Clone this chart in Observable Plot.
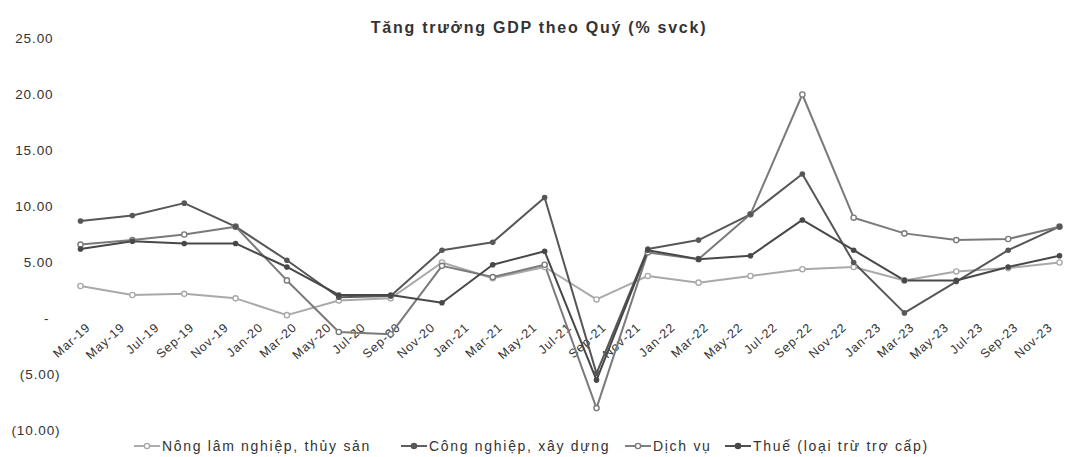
<!DOCTYPE html>
<html><head><meta charset="utf-8">
<script src="https://cdn.jsdelivr.net/npm/d3@7"></script>
<script src="https://cdn.jsdelivr.net/npm/@observablehq/plot@0.6"></script>
<style>
body{margin:0;background:#fff;font-family:"Liberation Sans",Arial,sans-serif;}
#wrap{position:relative;width:1078px;height:457px;overflow:hidden;background:#fff}
#title{position:absolute;top:19px;left:0;width:1078px;text-align:center;font-weight:bold;font-size:16px;color:#333;letter-spacing:1.75px}
.lg{position:absolute;top:438px;font-size:14px;color:#333;white-space:nowrap;display:flex;align-items:center;letter-spacing:1.7px}
.lg svg{margin-right:1px}
#chart svg text{letter-spacing:0.9px}
</style></head><body>
<div id="wrap"><div id="chart"></div><div id="title">Tăng trưởng GDP theo Quý (% svck)</div><div id="legend"></div></div>
<script>
const quarters = ["Mar-19","Jun-19","Sep-19","Dec-19","Mar-20","Jun-20","Sep-20","Dec-20","Mar-21","Jun-21","Sep-21","Dec-21","Mar-22","Jun-22","Sep-22","Dec-22","Mar-23","Jun-23","Sep-23","Dec-23"];
const xTickLabels = ["Mar-19","May-19","Jul-19","Sep-19","Nov-19","Jan-20","Mar-20","May-20","Jul-20","Sep-20","Nov-20","Jan-21","Mar-21","May-21","Jul-21","Sep-21","Nov-21","Jan-22","Mar-22","May-22","Jul-22","Sep-22","Nov-22","Jan-23","Mar-23","May-23","Jul-23","Sep-23","Nov-23"];
const yTicks = [25, 20, 15, 10, 5, 0, -5, -10];
const seriesNames = ["Nông lâm nghiệp, thủy sản", "Công nghiệp, xây dựng", "Dịch vụ", "Thuế (loại trừ trợ cấp)"];
const seriesColors = ["#a9a9a9", "#575757", "#7a7a7a", "#484848"];
const nongLamNghiep = [2.9, 2.1, 2.2, 1.8, 0.3, 1.6, 1.8, 5.0, 3.6, 4.6, 1.7, 3.8, 3.2, 3.8, 4.4, 4.6, 3.4, 4.2, 4.5, 5.0];
const congNghiep = [8.7, 9.2, 10.3, 8.2, 5.2, 1.9, 2.0, 6.1, 6.8, 10.8, -4.9, 6.2, 7.0, 9.3, 12.9, 5.0, 0.5, 3.3, 6.1, 8.2];
const dichVu = [6.6, 7.0, 7.5, 8.2, 3.4, -1.2, -1.4, 4.7, 3.7, 4.8, -8.0, 5.9, 5.3, 9.3, 20.0, 9.0, 7.6, 7.0, 7.1, 8.2];
const thue = [6.2, 6.9, 6.7, 6.7, 4.6, 2.1, 2.1, 1.4, 4.8, 6.0, -5.5, 6.1, 5.3, 5.6, 8.8, 6.1, 3.4, 3.4, 4.6, 5.6];

const parse = d3.timeParse("%b-%y");
const allValues = [nongLamNghiep, congNghiep, dichVu, thue];
const rows = [];
allValues.forEach((vals, s) => quarters.forEach((q, i) => rows.push({date: parse(q), value: vals[i], series: seriesNames[s]})));
const hollow = new Set([seriesNames[0], seriesNames[2]]);
const xTicks = xTickLabels.map(t => ({date: parse(t), label: t}));
const fmtY = d => d === 0 ? "-" : d < 0 ? `(${Math.abs(d).toFixed(2)})` : d.toFixed(2);

const chart = Plot.plot({
  width: 1078, height: 440,
  marginLeft: 80, marginRight: 19, marginTop: 38, marginBottom: 10,
  style: {fontFamily: "'Liberation Sans', Arial, sans-serif", background: "#fff"},
  x: {type: "time", domain: [parse("Mar-19"), parse("Dec-23")], axis: null},
  y: {domain: [-10, 25], axis: null},
  color: {domain: seriesNames, range: seriesColors},
  marks: [
    Plot.text(yTicks.filter(d => d > 0), {y: d => d, text: fmtY, frameAnchor: "left", textAnchor: "end", dx: -27, fontSize: 13.5, fill: "#333"}),
    Plot.text(yTicks.filter(d => d === 0), {y: d => d, text: fmtY, frameAnchor: "left", textAnchor: "end", dx: -31, fontSize: 13.5, fill: "#333"}),
    Plot.text(yTicks.filter(d => d < 0), {y: d => d, text: fmtY, frameAnchor: "left", textAnchor: "end", dx: -20, fontSize: 13.5, fill: "#333"}),
    Plot.text(xTicks, {x: "date", y: d => 0, text: "label", rotate: -42, textAnchor: "end", dx: 8, dy: 7, fontSize: 12.5, fill: "#333"}),
    Plot.line(rows, {x: "date", y: "value", z: "series", stroke: "series", strokeWidth: 2}),
    Plot.dot(rows.filter(d => hollow.has(d.series)), {x: "date", y: "value", stroke: "series", fill: "white", r: 2.6, strokeWidth: 1.4}),
    Plot.dot(rows.filter(d => !hollow.has(d.series)), {x: "date", y: "value", fill: "series", r: 2.8})
  ]
});
document.getElementById("chart").appendChild(chart);

const legendLefts = [133, 400, 624, 724];
const legend = document.getElementById("legend");
seriesNames.forEach((name, i) => {
  const div = document.createElement("div");
  div.className = "lg";
  div.style.left = legendLefts[i] + "px";
  const c = seriesColors[i];
  const fill = hollow.has(name) ? "white" : c;
  div.innerHTML = `<svg width="28" height="12"><line x1="1" y1="6" x2="27" y2="6" stroke="${c}" stroke-width="1.9"/><circle cx="14" cy="6" r="2.6" fill="${fill}" stroke="${c}" stroke-width="1.4"/></svg><span>${name}</span>`;
  legend.appendChild(div);
});
</script>
</body></html>
